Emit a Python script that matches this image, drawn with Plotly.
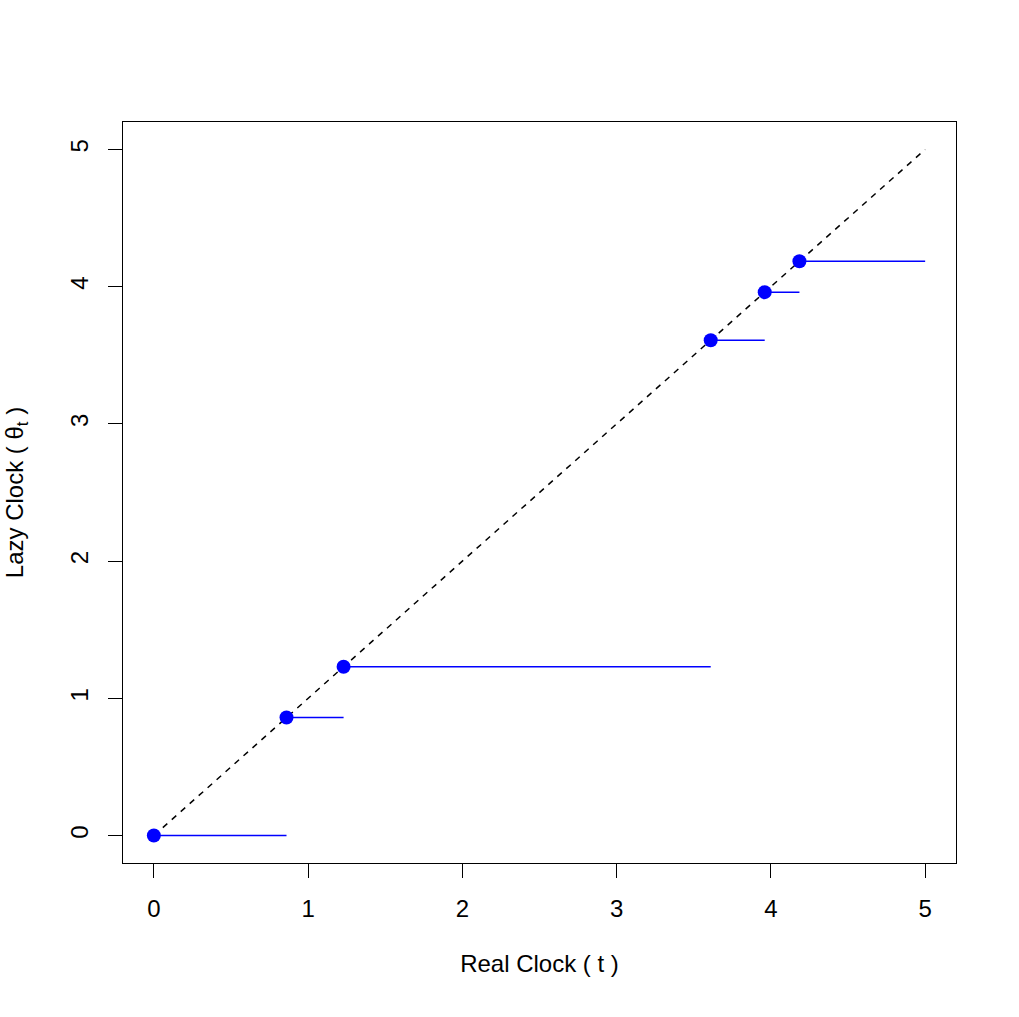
import plotly.graph_objects as go

jump_times = [0.0, 0.86, 1.23, 3.61, 3.96, 4.185]
lazy_values = [0.0, 0.86, 1.23, 3.61, 3.96, 4.185]
end_time = 5.0
tick_vals = [0, 1, 2, 3, 4, 5]

seg_x, seg_y = [], []
ends = jump_times[1:] + [end_time]
for t0, t1, v in zip(jump_times, ends, lazy_values):
    seg_x += [t0, t1, None]
    seg_y += [v, v, None]

fig = go.Figure()
fig.add_trace(go.Scatter(x=[0, end_time], y=[0, end_time], mode="lines",
                         line=dict(color="black", width=1.5, dash="6px,6px"), hoverinfo="skip"))
fig.add_trace(go.Scatter(x=seg_x, y=seg_y, mode="lines",
                         line=dict(color="blue", width=1.5)))
fig.add_trace(go.Scatter(x=jump_times, y=lazy_values, mode="markers",
                         marker=dict(color="blue", size=14)))

FONT = dict(size=24, color="black", family="Liberation Sans")
axis_common = dict(range=[-0.2, 5.2], tickvals=tick_vals, ticks="outside", ticklen=14,
                   tickcolor="black", tickwidth=1, showline=True, linecolor="black",
                   linewidth=1, mirror=True, showgrid=False, zeroline=False,
                   tickfont=FONT)
fig.update_xaxes(**axis_common, ticklabelstandoff=10,
                 title=dict(text="Real Clock ( t )", font=FONT, standoff=34))
fig.update_yaxes(**axis_common, tickangle=-90, ticklabelstandoff=10,
                 title=dict(text="Lazy Clock ( θ<sub>t</sub> )", font=FONT, standoff=36))

fig.update_layout(width=1019, height=1017, showlegend=False,
                  plot_bgcolor="white", paper_bgcolor="white",
                  margin=dict(l=123, r=63, t=122, b=154))
fig.write_html("out.html")
